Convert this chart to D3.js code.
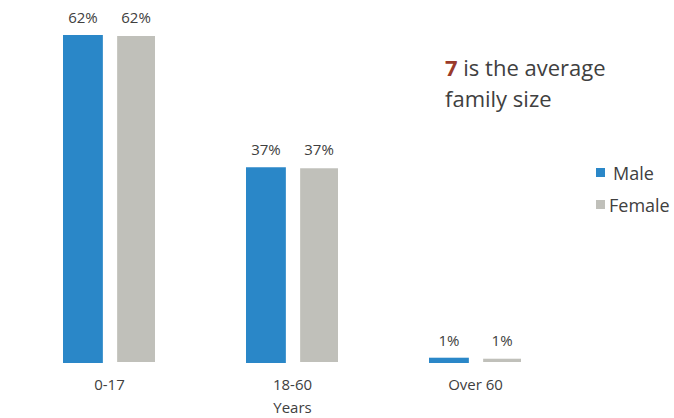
<!DOCTYPE html>
<html>
<head>
<meta charset="utf-8">
<script src="https://cdn.jsdelivr.net/npm/d3@7"></script>
<style>
  body { margin: 0; background: #fff; }
  text { font-family: "Open Sans", sans-serif; fill: #404040; }
</style>
</head>
<body>
<svg id="chart" width="674" height="418"></svg>
<script>
// data
var categories = ["0-17", "18-60", "Over 60"];
var series = ["Male", "Female"];
var maleValues = [62, 37, 1];
var femaleValues = [62, 37, 1];
var axisTitle = "Years";

var colors = { Male: "#2A87C8", Female: "#C0C0BA" };

var svg = d3.select("#chart"),
    width = 674,
    height = 418,
    baseline = 363;

var rows = categories.map(function (c, i) {
    return { cat: c, Male: maleValues[i], Female: femaleValues[i] };
});

// x scales
var x0 = d3.scaleBand()
    .domain(categories)
    .range([18, 567])
    .paddingInner(0)
    .paddingOuter(0);

var x1 = d3.scaleBand()
    .domain(series)
    .range([x0.bandwidth() / 2 - 46.5, x0.bandwidth() / 2 + 46.5])
    .paddingInner(0.25)
    .paddingOuter(0);

var y = d3.scaleLinear()
    .domain([0, 62])
    .range([baseline, 35]);

var groups = svg.selectAll(".grp")
    .data(rows)
    .enter()
    .append("g")
    .attr("class", "grp")
    .attr("transform", function (d) { return "translate(" + x0(d.cat) + ",0)"; });

groups.selectAll("rect")
    .data(function (d) { return series.map(function (s) { return { key: s, value: d[s] }; }); })
    .enter()
    .append("rect")
    .attr("x", function (d) { return x1(d.key); })
    .attr("y", function (d) { return y(d.value); })
    .attr("width", x1.bandwidth())
    .attr("height", function (d) { return baseline - y(d.value); })
    .style("fill", function (d) { return colors[d.key]; })
    .style("stroke", function (d) { return d.key == "Female" ? "#fff" : "none"; })
    .style("stroke-width", 2);

// value labels
groups.selectAll(".val")
    .data(function (d) { return series.map(function (s) { return { key: s, value: d[s] }; }); })
    .enter()
    .append("text")
    .attr("class", "val")
    .attr("x", function (d) { return x1(d.key) + x1.bandwidth() / 2; })
    .attr("y", function (d) { return y(d.value) - 12; })
    .attr("text-anchor", "middle")
    .style("font-size", "15px")
    .text(function (d) { return d.value + "%"; });

// x axis labels
var xAxis = svg.append("g")
    .attr("transform", "translate(0," + baseline + ")")
    .call(d3.axisBottom(x0).tickSize(0).tickPadding(16));
xAxis.select(".domain").remove();
xAxis.selectAll("text")
    .style("font-size", "15px")
    .style("font-family", "'Open Sans', sans-serif")
    .style("fill", "#404040");

svg.append("text")
    .attr("x", x0("18-60") + x0.bandwidth() / 2)
    .attr("y", 413)
    .attr("text-anchor", "middle")
    .style("font-size", "15px")
    .text(axisTitle);

// annotation
var note = svg.append("text")
    .attr("x", 445)
    .attr("y", 76)
    .style("font-size", "22px");
note.append("tspan")
    .style("font-weight", "bold")
    .style("fill", "#9A3A2A")
    .text("7");
note.append("tspan").text(" is the average");
svg.append("text")
    .attr("x", 445)
    .attr("y", 107)
    .style("font-size", "22px")
    .text("family size");

// legend
var legend = svg.selectAll(".legend")
    .data(series)
    .enter()
    .append("g")
    .attr("class", "legend")
    .attr("transform", function (d, i) { return "translate(596," + (168 + i * 32) + ")"; });

legend.append("rect")
    .attr("width", 9)
    .attr("height", 9)
    .style("fill", function (d) { return colors[d]; });

legend.append("text")
    .attr("x", function (d) { return d == "Male" ? 17 : 13; })
    .attr("y", 12)
    .style("font-size", "18px")
    .text(function (d) { return d; });
</script>
</body>
</html>
